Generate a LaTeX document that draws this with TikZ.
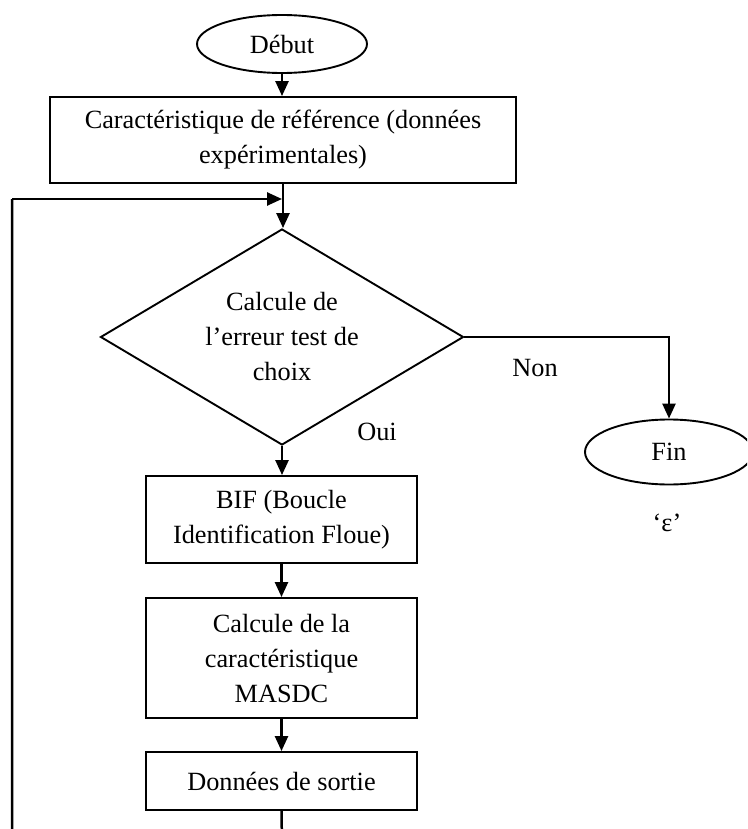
\documentclass[tikz,border=0pt]{standalone}
\usepackage{fontspec}
\setmainfont{Liberation Serif}
\usetikzlibrary{shapes.geometric,arrows.meta}
\tikzset{
  base/.style={draw=black, line width=1.9pt, align=center, inner sep=0pt,
    font=\fontsize{26.3}{35}\selectfont},
  procbox/.style={base, rectangle, minimum width=271pt},
  term/.style={base, ellipse},
  decide/.style={base, diamond, aspect=1.68, minimum width=363pt, minimum height=216pt},
  conn/.style={line width=2.5pt, -{Triangle[length=15pt,width=13pt]}},
  plain/.style={line width=2.5pt},
  lbl/.style={font=\fontsize{26.3}{35}\selectfont, inner sep=0pt}
}
\begin{document}
\begin{tikzpicture}[x=1pt,y=-1pt]
\clip (0,0) rectangle (747,829);
\node[term, minimum width=170pt, minimum height=58pt] (debut) at (282,44) {Début};
\node[base, rectangle, minimum width=466pt, minimum height=86pt] (ref) at (283,140)
  {Caractéristique de référence (données\\expérimentales)};
\node[decide] (test) at (282,337) {Calcule de\\l’erreur test de\\choix};
\node[procbox, minimum height=87pt] (bif) at (281.5,519.5) {BIF (Boucle\\Identification Floue)};
\node[procbox, minimum height=120pt] (calc) at (281.5,658) {Calcule de la\\caractéristique\\MASDC};
\node[procbox, minimum height=58pt] (sortie) at (281.5,781) {Données de sortie};
\node[term, minimum width=168pt, minimum height=65pt] (fin) at (669,452) {Fin};

\node[lbl] (non) at (535,368) {Non};
\node[lbl] (oui) at (377,432) {Oui};
\node[lbl] (eps) at (667,523) {‘ε’};

\coordinate (join) at (283,199);
\coordinate (bottom) at (282,845);
\coordinate (corner) at (12,845);
\coordinate (leftup) at (12,199);

\draw[conn] (debut.south) -- (debut.south |- ref.north);
\draw[conn] (ref.south -| join) -- (test.north -| join);
\draw[conn] (test.south) -- (bif.north -| test.south);
\draw[conn] (bif.south) -- (calc.north);
\draw[conn] (calc.south) -- (sortie.north);
\draw[plain] (sortie.south) -- (bottom) -- (corner) -- (leftup);
\draw[conn] (leftup) -- ([xshift=-1pt]join);
\draw[conn] (test.east) -| (fin.north);
\end{tikzpicture}
\end{document}
